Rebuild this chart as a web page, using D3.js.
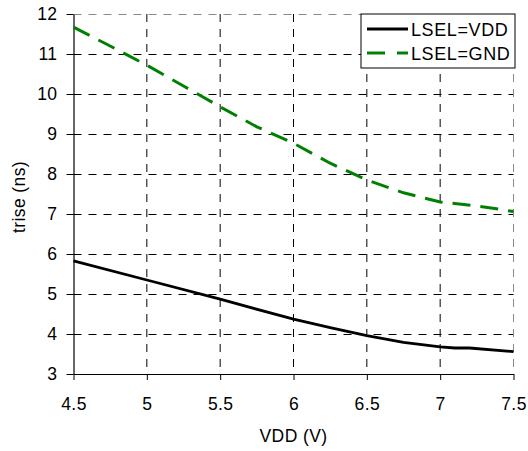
<!DOCTYPE html>
<html>
<head>
<meta charset="utf-8">
<script src="https://cdn.jsdelivr.net/npm/d3@7"></script>
<style>
    body { margin: 0; background: #fff; }
    text { font-family: "Liberation Sans", Arial, sans-serif; }
</style>
</head>
<body>
<div id="chart"></div>
<script>
// Values
const vddGnd = [4.5, 4.75, 5, 5.25, 5.5, 5.75, 6, 6.25, 6.5, 6.75, 7, 7.25, 7.4, 7.5];
const triseGnd = [11.67, 11.2, 10.72, 10.2, 9.68, 9.18, 8.77, 8.27, 7.85, 7.53, 7.3, 7.2, 7.12, 7.06];
const vddVdd = [4.5, 5, 5.5, 6, 6.25, 6.5, 6.75, 7, 7.1, 7.2, 7.5];
const triseVdd = [5.83, 5.35, 4.87, 4.37, 4.16, 3.96, 3.79, 3.68, 3.65, 3.65, 3.56];
const xTicks = [4.5, 5, 5.5, 6, 6.5, 7, 7.5];
const yTicks = [3, 4, 5, 6, 7, 8, 9, 10, 11, 12];
const seriesNames = ["LSEL=VDD", "LSEL=GND"];

const W = 528, H = 451;
const margin = { top: 14, right: 14.5, bottom: 77, left: 73.5 };
const width = W - margin.left - margin.right;
const height = H - margin.top - margin.bottom;
const fontSize = "17.5px";

const svg = d3.select("#chart").append("svg")
    .attr("width", W)
    .attr("height", H);
const g = svg.append("g")
    .attr("transform", `translate(${margin.left},${margin.top})`);

const x = d3.scaleLinear().domain([4.5, 7.5]).range([0, width]);
const y = d3.scaleLinear().domain([3, 12]).range([height, 0]);

// grid lines
g.append("g").selectAll("line")
    .data(yTicks.filter(d => d !== 3))
    .join("line")
    .attr("x1", 0).attr("x2", width)
    .attr("y1", d => y(d) + 0.5).attr("y2", d => y(d) + 0.5)
    .attr("stroke", d => d === 12 ? "#8a8a8a" : "#000")
    .attr("stroke-width", 1)
    .attr("stroke-dasharray", "8,7");
g.append("g").selectAll("line")
    .data(xTicks.filter(d => d !== 4.5))
    .join("line")
    .attr("x1", d => x(d)).attr("x2", d => x(d))
    .attr("y1", 0).attr("y2", height)
    .attr("stroke", d => d === 7.5 ? "#8a8a8a" : "#000")
    .attr("stroke-width", 1)
    .attr("stroke-dasharray", "8,7");

// axes
const xAxis = g.append("g")
    .attr("transform", `translate(0,${height})`)
    .call(d3.axisBottom(x).tickValues(xTicks).tickSize(6).tickSizeOuter(0).tickPadding(18)
        .tickFormat(d3.format("")));
const yAxis = g.append("g")
    .call(d3.axisLeft(y).tickValues(yTicks).tickSize(7).tickSizeOuter(0).tickPadding(9));
[xAxis, yAxis].forEach(a => {
    a.select(".domain").attr("stroke", "#000").attr("stroke-width", 1.2);
    a.selectAll(".tick line").attr("stroke", "#000");
    a.selectAll("text")
        .attr("font-family", "Liberation Sans, Arial, sans-serif")
        .attr("font-size", fontSize)
        .attr("letter-spacing", "0.4px")
        .attr("fill", "#000");
});

// lines
const line = d3.line()
    .x(d => x(d[0]))
    .y(d => y(d[1]));
g.append("path")
    .datum(d3.zip(vddVdd, triseVdd))
    .attr("fill", "none")
    .attr("stroke", "#000")
    .attr("stroke-width", 2.8)
    .attr("d", line);
g.append("path")
    .datum(d3.zip(vddGnd, triseGnd))
    .attr("fill", "none")
    .attr("stroke", "#008000")
    .attr("stroke-width", 3)
    .attr("stroke-dasharray", "18,10")
    .attr("d", line);

// axis titles
svg.append("text")
    .attr("x", margin.left + width / 2)
    .attr("y", 441.5)
    .attr("text-anchor", "middle")
    .attr("font-size", fontSize)
    .attr("letter-spacing", "0.4px")
    .text("VDD (V)");
svg.append("text")
    .attr("transform", `translate(25,${margin.top + height / 2 + 3}) rotate(-90)`)
    .attr("text-anchor", "middle")
    .attr("font-size", fontSize)
    .attr("letter-spacing", "0.4px")
    .text("trise (ns)");

// legend
const legend = svg.append("g").attr("transform", "translate(361,14)");
legend.append("rect")
    .attr("width", 154).attr("height", 54)
    .attr("fill", "#fff")
    .attr("stroke", "#000")
    .attr("stroke-width", 1);
const rows = legend.selectAll("g.row")
    .data(seriesNames)
    .join("g")
    .attr("class", "row")
    .attr("transform", (d, i) => `translate(0,${15 + i * 24})`);
rows.append("line")
    .attr("x1", 6).attr("x2", 47)
    .attr("stroke", (d, i) => i === 0 ? "#000" : "#008000")
    .attr("stroke-width", 3)
    .attr("stroke-dasharray", (d, i) => i === 0 ? null : "18,12");
rows.append("text")
    .attr("x", 50)
    .attr("y", 6.5)
    .attr("font-size", "18px")
    .attr("letter-spacing", "0.6px")
    .text(d => d);
</script>
</body>
</html>
